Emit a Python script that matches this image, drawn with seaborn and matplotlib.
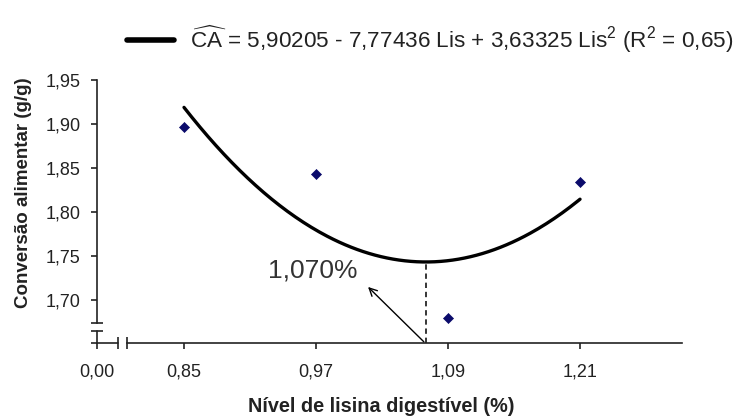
import numpy as np
import pandas as pd
import matplotlib
matplotlib.use("Agg")
import matplotlib.pyplot as plt
import seaborn as sns

# ---- data ----
lys_levels = [0.85, 0.97, 1.09, 1.21]
feed_conv = [1.897, 1.843, 1.680, 1.834]
coefs = [5.90205, -7.77436, 3.63325]      # CA = b0 + b1*Lis + b2*Lis^2
optimum = 1.070
x_ticks = [0.00, 0.85, 0.97, 1.09, 1.21]
x_tick_labels = ["0,00", "0,85", "0,97", "1,09", "1,21"]
y_ticks = [1.70, 1.75, 1.80, 1.85, 1.90, 1.95]
y_tick_labels = ["1,70", "1,75", "1,80", "1,85", "1,90", "1,95"]
eq_label = r"$\widehat{\mathrm{CA}}$ = 5,90205 - 7,77436 Lis + 3,63325 Lis$^2$ (R$^2$ = 0,65)"

sns.set_style("white")
plt.rcParams["font.family"] = ["Liberation Sans", "DejaVu Sans"]
plt.rcParams["mathtext.fontset"] = "custom"
plt.rcParams["mathtext.rm"] = "Liberation Sans"
plt.rcParams["mathtext.it"] = "Liberation Sans:italic"
plt.rcParams["mathtext.bf"] = "Liberation Sans:bold"

TXT = "#222222"
AX = "#222222"

fig = plt.figure(figsize=(7.35, 4.17), dpi=100)
ax = fig.add_axes([97 / 735, 74 / 417, 585 / 735, 263 / 417])

# broken x axis: 0.00 near the y axis, then the 0.80-1.30 range
real_pts = np.array([-1.0, 0.0, 0.0191, 0.79818, 3.0])
disp_pts = np.array([-0.2291, 0.7709, 0.7900, 0.79818, 3.0])
fwd = lambda v: np.interp(v, real_pts, disp_pts)
inv = lambda v: np.interp(v, disp_pts, real_pts)
ax.set_xscale("function", functions=(fwd, inv))

xs = np.linspace(lys_levels[0], lys_levels[-1], 200)
curve = pd.DataFrame({"Lis": xs, "CA": coefs[0] + coefs[1] * xs + coefs[2] * xs ** 2})
pts = pd.DataFrame({"Lis": lys_levels, "CA": feed_conv})

sns.lineplot(data=curve, x="Lis", y="CA", ax=ax, color="black", lw=2.4,
             label=eq_label, legend=False)
sns.scatterplot(data=pts, x="Lis", y="CA", ax=ax, marker="D", s=26,
                color="#0b0b6b", edgecolor="#0b0b6b", linewidth=0.5, zorder=3,
                legend=False)

ymin, ymax = 1.6511, 1.95
ax.set_xlim(0.0, 1.3027)
ax.set_ylim(ymin, ymax)

# optimum marker line
y_opt = coefs[0] + coefs[1] * optimum + coefs[2] * optimum ** 2
ax.plot([optimum, optimum], [ymin, y_opt], color="black", lw=1.1, ls=(0, (3.5, 2.5)))
ax.annotate("", xy=(1.0173, 1.7148), xytext=(1.068, 1.6525),
            arrowprops=dict(arrowstyle="->", color="black", lw=1.0,
                            shrinkA=0, shrinkB=0, mutation_scale=14))
ax.text(0.9668, 1.733, "1,070%", fontsize=19, color="#333333",
        ha="center", va="center")

# axes / spines
for s in ["top", "right"]:
    ax.spines[s].set_visible(False)
for s in ["left", "bottom"]:
    ax.spines[s].set_color(AX)
    ax.spines[s].set_linewidth(1.2)
ax.spines["left"].set_bounds(1.6739, ymax)
ax.spines["bottom"].set_bounds(0.79818, 1.3027)
# lower y piece and left x piece with break caps
ax.plot([0, 0], [ymin, 1.6648], color=AX, lw=1.2, clip_on=False)
ax.plot([0, 0.0191], [ymin, ymin], color=AX, lw=1.2, clip_on=False)
ax.plot([0, 0], [1.6739, 1.6648], ls="none", marker="_", ms=9, mew=1.2,
        color=AX, clip_on=False)
ax.plot([0.0191, 0.79818], [ymin, ymin], ls="none", marker="|", ms=8, mew=1.2,
        color=AX, clip_on=False)

ax.set_xticks(x_ticks)
ax.set_xticklabels(x_tick_labels)
ax.set_yticks([ymin] + y_ticks)
ax.set_yticklabels([""] + y_tick_labels)
ax.tick_params(axis="x", direction="out", length=4, width=1.2, color=AX,
               labelsize=13, labelcolor=TXT, pad=11, bottom=True)
ax.tick_params(axis="y", direction="out", length=4, width=1.2, color=AX,
               labelsize=13, labelcolor=TXT, pad=8, left=True)

ax.set_xlabel("Nível de lisina digestível (%)", fontsize=14.3, fontweight="bold",
              color=TXT, va="bottom")
ax.set_ylabel("Conversão alimentar (g/g)", fontsize=13.5, fontweight="bold",
              color=TXT)
ax.xaxis.set_label_coords((381 - 97) / 585, (343 - 415.5) / 263)
ax.yaxis.set_label_coords((32 - 97) / 585, (343 - 193) / 263)

handles, labels = ax.get_legend_handles_labels()
leg = fig.legend(handles[:1], labels[:1], loc="center left",
                 bbox_to_anchor=(127 / 735, 1 - 39 / 417), frameon=False,
                 fontsize=16.2, handlelength=2.1, handletextpad=0.7,
                 borderpad=0, borderaxespad=0)
for t in leg.get_texts():
    t.set_color(TXT)
for l in leg.get_lines():
    l.set_linewidth(4)

fig.savefig("out.png", dpi=100)
